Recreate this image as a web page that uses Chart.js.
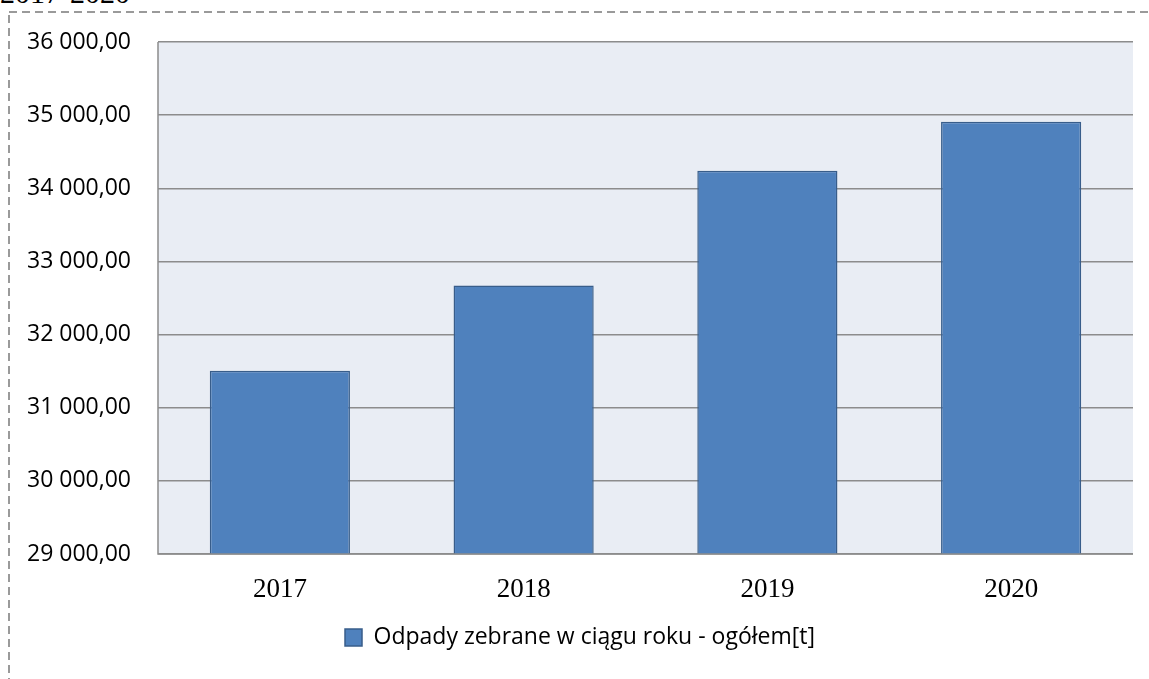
<!DOCTYPE html>
<html lang="pl">
<head>
<meta charset="utf-8">
<title>Odpady zebrane 2017-2020</title>
<script src="https://cdn.jsdelivr.net/npm/chart.js@4.4.1/dist/chart.umd.min.js"></script>
<style>
    html, body { margin: 0; padding: 0; background: #fff; overflow: hidden; }
    #wrap { position: relative; width: 1149px; height: 679px; }
    #title {
        position: absolute; left: 0; top: -22px;
        font-family: "Liberation Serif", serif; font-size: 30px; color: #000;
        line-height: 30px; white-space: nowrap;
    }
    #frameTop {
        position: absolute; left: 9px; top: 11px; width: 1140px; height: 2px;
        background: repeating-linear-gradient(to right, #9a9a9a 0 8px, transparent 8px 13px);
    }
    #frameLeft {
        position: absolute; left: 8px; top: 15px; width: 2px; height: 664px;
        background: repeating-linear-gradient(to bottom, #9a9a9a 0 8px, transparent 8px 13px);
    }
    #chart { position: absolute; left: 0; top: 0; }
</style>
</head>
<body>
<div id="wrap">
    <div id="title">2017-2020</div>
    <div id="frameTop"></div>
    <div id="frameLeft"></div>
    <canvas id="chart" width="1149" height="679"></canvas>
</div>
<script>
// Odpady zebrane w ciągu roku - ogółem [t]
const years = ['2017', '2018', '2019', '2020'];
const totals = [31505, 32670, 34240, 34910];
const seriesLabel = 'Odpady zebrane w ciągu roku - ogółem[t]';
const yMin = 29000;
const yMax = 36000;
const yStep = 1000;

// 36 000,00 style labels
function plNumber(v) {
    const parts = v.toFixed(2).split('.');
    const intPart = parts[0].replace(/\B(?=(\d{3})+(?!\d))/g, ' ');
    return intPart + ',' + parts[1];
}

const plotBackground = {
    id: 'plotBackground',
    beforeDraw(chart) {
        const { ctx, chartArea: a } = chart;
        ctx.save();
        ctx.fillStyle = '#e9edf4';
        ctx.fillRect(a.left, a.top, a.right - a.left, a.bottom - a.top);
        ctx.restore();
    },
    afterDatasetsDraw(chart) {
        const { ctx, chartArea: a } = chart;
        ctx.save();
        ctx.strokeStyle = '#8c8c8c';
        ctx.lineWidth = 1.5;
        ctx.beginPath();
        ctx.moveTo(a.left, a.top);
        ctx.lineTo(a.left, a.bottom);
        ctx.lineTo(a.right, a.bottom);
        ctx.stroke();
        ctx.restore();
    }
};

const ctx = document.getElementById('chart').getContext('2d');
new Chart(ctx, {
    type: 'bar',
    data: {
        labels: years,
        datasets: [{
            label: seriesLabel,
            data: totals,
            backgroundColor: '#4f81bd',
            borderColor: '#385d8a',
            borderWidth: 1.5,
            barPercentage: 0.575,
            categoryPercentage: 1.0
        }]
    },
    options: {
        responsive: false,
        animation: false,
        layout: { padding: { left: 27, right: 16, top: 42, bottom: 20 } },
        plugins: {
            legend: {
                position: 'bottom',
                labels: {
                    boxWidth: 17,
                    boxHeight: 17,
                    color: '#000',
                    font: { family: 'Open Sans', size: 23 },
                    padding: 10
                }
            },
            tooltip: { enabled: false }
        },
        scales: {
            x: {
                grid: { display: false, drawTicks: false },
                border: { display: false },
                ticks: {
                    color: '#000',
                    padding: 20,
                    font: { family: 'Liberation Serif', size: 27 }
                },
                afterFit: (scale) => { scale.height = 62; }
            },
            y: {
                min: yMin,
                max: yMax,
                grid: { color: '#8c8c8c', lineWidth: 1.5, drawTicks: false },
                border: { display: false },
                ticks: {
                    stepSize: yStep,
                    color: '#000',
                    crossAlign: 'far',
                    padding: 0,
                    font: { family: 'Open Sans', size: 23 },
                    callback: (v) => plNumber(v)
                },
                afterFit: (scale) => { scale.width = 131; }
            }
        }
    },
    plugins: [plotBackground]
});
</script>
</body>
</html>
